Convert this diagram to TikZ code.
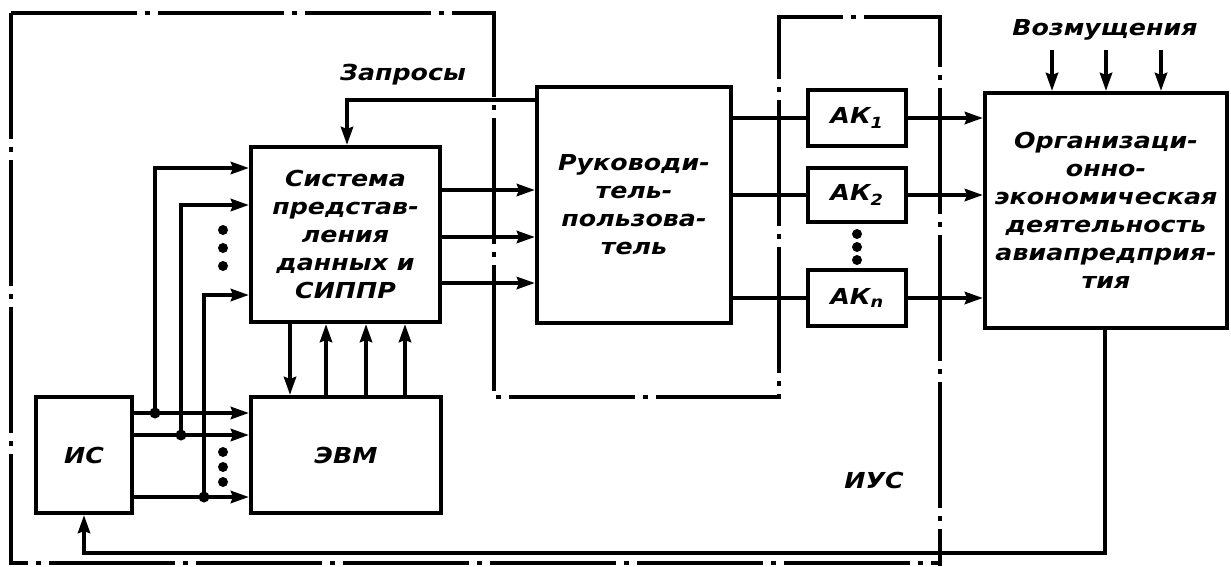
\documentclass[tikz,border=0pt]{standalone}
\usepackage{fontspec}
\setmainfont{DejaVu Sans}[FakeStretch=1.15]
\usetikzlibrary{arrows.meta,calc}
\begin{document}
\begin{tikzpicture}[x=1pt,y=-1pt,line width=4pt,
  txt/.style={font=\fontsize{22}{28}\selectfont\bfseries\itshape},
  box/.style={draw,line width=4pt,align=center,inner sep=0pt,txt},
  lbl/.style={inner sep=0pt,txt},
  arr/.style={-{Stealth[length=18pt,width=12pt,inset=2pt]}},
  border/.style={line width=3.4pt,dash pattern=on 126pt off 8pt on 5pt off 8pt},
  jdot/.style={fill=black}]
\useasboundingbox (0,0) rectangle (1231,566);
% boundary of the control system
\draw[border] (11,13) -- (494,13) -- (494,397) -- (779,397) -- (779,17) -- (940,17) -- (940,566);
\draw[border] (11,13) -- (11,563) -- (940,563);
% blocks
\node[box,minimum width=96pt,minimum height=116pt] (is) at (84,455) {ИС};
\node[box,minimum width=190pt,minimum height=116pt] (evm) at (346,455) {ЭВМ};
\node[box,minimum width=189pt,minimum height=175pt] (sys) at (345.5,234.5) {Система\\представ-\\ления\\данных и\\СИППР};
\node[box,minimum width=194pt,minimum height=236pt] (ruk) at (634,205) {Руководи-\\тель-\\пользова-\\тель};
\node[box,minimum width=98pt,minimum height=56pt] (ak1) at (857,118) {АК\textsubscript{1}};
\node[box,minimum width=98pt,minimum height=54pt] (ak2) at (857,195) {АК\textsubscript{2}};
\node[box,minimum width=98pt,minimum height=56pt] (akn) at (857,298) {АК\textsubscript{n}};
\node[box,minimum width=242pt,minimum height=235pt] (org) at (1106,210.5) {Организаци-\\онно-\\экономическая\\деятельность\\авиапредприя-\\тия};
% labels
\node[lbl] (zl) at (403,75) {Запросы};
\node[lbl] (vl) at (1105,30) {Возмущения};
\node[lbl] (iul) at (874,480) {ИУС};
% Запросы
\coordinate (q) at (347,100);
\draw[arr] (ruk.west |- q) -- (q) -- (q |- sys.north);
% ИС -> ЭВМ and branches to Система
\coordinate (b1) at (155,413);
\coordinate (b2) at (181,435);
\coordinate (b3) at (204,497);
\foreach \b in {b1,b2,b3} {
  \draw[arr] (is.east |- \b) -- (evm.west |- \b);
  \fill[jdot] (\b) circle (5.5pt);
}
\draw[arr] (b1) -- (b1 |- 0,168) -- (sys.west |- 0,168);
\draw[arr] (b2) -- (b2 |- 0,205) -- (sys.west |- 0,205);
\draw[arr] (b3) -- (b3 |- 0,295) -- (sys.west |- 0,295);
\foreach \yy in {230,248,266} \fill[jdot] (223,\yy) circle (5pt);
\foreach \yy in {452,467,482} \fill[jdot] (223,\yy) circle (5pt);
% Система <-> ЭВМ
\draw[arr] (sys.south -| 290,0) -- (evm.north -| 290,0);
\foreach \xx in {326,366,405} \draw[arr] (evm.north -| \xx,0) -- (sys.south -| \xx,0);
% Система -> Руководитель
\foreach \yy in {190,237,283} \draw[arr] (sys.east |- 0,\yy) -- (ruk.west |- 0,\yy);
% Руководитель -> АК -> Орг
\foreach \k in {ak1,ak2,akn} {
  \draw (ruk.east |- \k.west) -- (\k.west);
  \draw[arr] (\k.east) -- (org.west |- \k.east);
}
\foreach \yy in {234,247,260} \fill[jdot] (857,\yy) circle (5pt);
% Возмущения
\foreach \xx in {1052,1106,1161} {
  \coordinate (v\xx) at (\xx,50);
  \draw[arr] (v\xx) -- (org.north -| v\xx);
}
% feedback
\coordinate (fb) at (1105,553);
\draw[arr] (org.south -| fb) -- (fb) -| (is.south);
\end{tikzpicture}
\end{document}
